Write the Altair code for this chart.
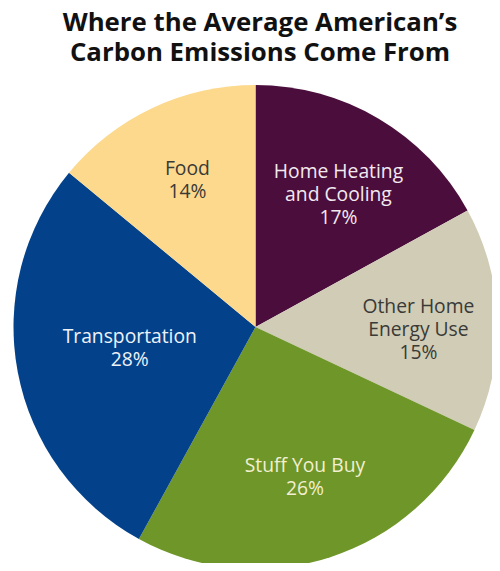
import altair as alt
import pandas as pd
import math

categories = ["Home Heating and Cooling", "Other Home Energy Use", "Stuff You Buy", "Transportation", "Food"]
labels = ["Home Heating\nand Cooling\n17%", "Other Home\nEnergy Use\n15%", "Stuff You Buy\n26%", "Transportation\n28%", "Food\n14%"]
values = [17, 15, 26, 28, 14]
order = [0, 1, 2, 3, 4]

slice_colors = ["#4b0e3c", "#d0ccb6", "#6f9628", "#03428a", "#fcd98d"]
text_colors = ["#f3e9f0", "#3a3a36", "#f2efd2", "#eef2f8", "#3a3a36"]

df = pd.DataFrame({"category": categories, "label": labels, "value": values, "order": order})

cx, cy, R = 247.5, 258, 242
LH = 23

pie = alt.Chart(df).mark_arc(outerRadius=R, stroke=None).encode(
    theta=alt.Theta("value:Q", stack=True),
    order=alt.Order("order:Q"),
    color=alt.Color("category:N", scale=alt.Scale(domain=categories, range=slice_colors), legend=None),
    x=alt.value(cx), y=alt.value(cy),
)

def label_layer(radius, cats, shift):
    return alt.Chart(df).transform_window(
        cum="sum(value)", sort=[alt.SortField("order")], frame=[None, 0]
    ).transform_calculate(
        mid="datum.cum - datum.value / 2"
    ).transform_filter(
        alt.FieldOneOfPredicate(field="category", oneOf=cats)
    ).mark_text(
        radius=radius, font="Open Sans", fontSize=19.3, lineBreak="\n", lineHeight=LH,
        align="center", baseline="middle", dy=shift,
    ).encode(
        theta=alt.Theta("mid:Q", stack=None, scale=alt.Scale(domain=[0, 100], range=[0, 2 * math.pi])),
        text="label:N",
        color=alt.Color("category:N", scale=alt.Scale(domain=categories, range=text_colors), legend=None),
        x=alt.value(cx), y=alt.value(cy),
    )

chart = alt.layer(
    pie,
    label_layer(163, ["Home Heating and Cooling", "Other Home Energy Use"], -14.5),
    label_layer(160, ["Stuff You Buy", "Food"], -13),
    label_layer(128, ["Transportation"], -13.5),
).resolve_scale(
    color="independent", theta="independent"
).properties(
    width=484, height=494,
    autosize=alt.AutoSizeParams(type="none"),
    padding={"top": 61, "left": 0, "right": 0, "bottom": 0},
    title=alt.TitleParams(
        ["Where the Average American\u2019s", "Carbon Emissions Come From"],
        font="Open Sans", fontSize=25.8, fontWeight="bold", color="#111111",
        lineHeight=30, anchor="middle", offset=2, dx=10,
    ),
).configure_view(stroke=None)

chart.save("out.html", embed_options={"renderer": "svg", "actions": False})
